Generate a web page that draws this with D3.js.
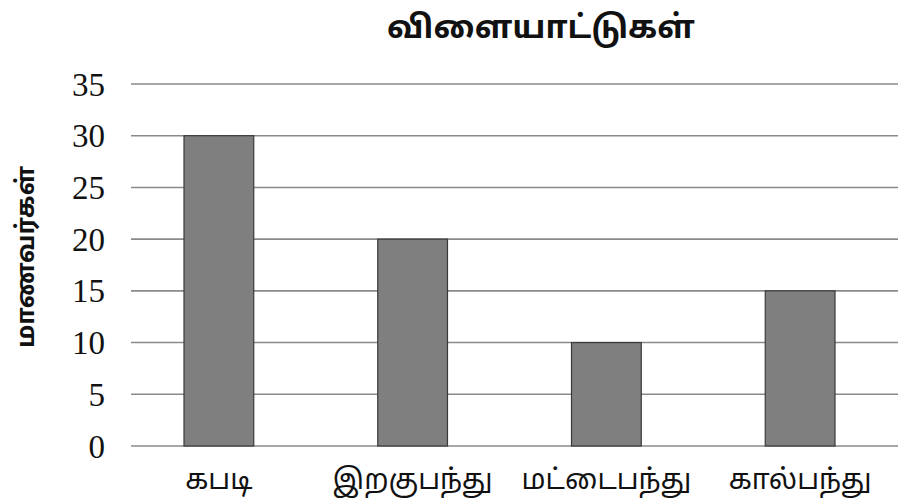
<!DOCTYPE html>
<html>
<head>
<meta charset="utf-8">
<script src="https://cdn.jsdelivr.net/npm/d3@7"></script>
<style>
  body { margin: 0; background: #fff; }
</style>
</head>
<body>
<div id="chart"></div>
<script>
const categories = ["கபடி", "இறகுபந்து", "மட்டைபந்து", "கால்பந்து"];
const students = [30, 20, 10, 15];
const yTicks = [0, 5, 10, 15, 20, 25, 30, 35];
const title = "விளையாட்டுகள்";
const yLabel = "மாணவர்கள்";

const dims = { width: 898, height: 501, left: 131, right: 898, top: 84, bottom: 446 };

const svg = d3.select("#chart")
    .append("svg")
    .attr("width", dims.width)
    .attr("height", dims.height);

const y = d3.scaleLinear()
    .domain([0, 35])
    .range([dims.bottom, dims.top]);

const x = d3.scaleBand()
    .domain(categories)
    .range([122, 897])
    .paddingInner(0.64)
    .paddingOuter(0.32);

// gridlines
svg.append("g")
    .selectAll("line")
    .data(yTicks)
    .join("line")
    .attr("x1", dims.left)
    .attr("x2", dims.right)
    .attr("y1", d => y(d))
    .attr("y2", d => y(d))
    .attr("stroke", "#8a8a8a")
    .attr("stroke-width", 1.6);

// y tick labels
svg.append("g")
    .selectAll("text")
    .data(yTicks)
    .join("text")
    .attr("x", 105)
    .attr("y", d => y(d))
    .attr("dy", "0.35em")
    .attr("text-anchor", "end")
    .attr("font-family", "'Liberation Serif', 'Times New Roman', serif")
    .attr("font-size", 33)
    .attr("fill", "#111")
    .text(d => d);

// bars
svg.append("g")
    .selectAll("rect")
    .data(students)
    .join("rect")
    .attr("x", (d, i) => x(categories[i]))
    .attr("y", d => y(d))
    .attr("width", x.bandwidth())
    .attr("height", d => y(0) - y(d))
    .attr("fill", "#7f7f7f")
    .attr("stroke", "#3a3a3a")
    .attr("stroke-width", 1.2);

// category labels
svg.append("g")
    .selectAll("text")
    .data(categories)
    .join("text")
    .attr("x", d => x(d) + x.bandwidth() / 2)
    .attr("y", 489)
    .attr("text-anchor", "middle")
    .attr("font-family", "'Noto Sans Tamil', 'Noto Sans', sans-serif")
    .attr("font-size", 28)
    .attr("fill", "#111")
    .text(d => d);

// title
svg.append("text")
    .attr("x", 541)
    .attr("y", 38)
    .attr("text-anchor", "middle")
    .attr("font-family", "'Noto Sans Tamil', 'Noto Sans', sans-serif")
    .attr("font-size", 32)
    .attr("font-weight", "bold")
    .attr("fill", "#111")
    .text(title);

// y axis label
svg.append("text")
    .attr("transform", `translate(34,257) rotate(-90)`)
    .attr("text-anchor", "middle")
    .attr("font-family", "'Noto Sans Tamil', 'Noto Sans', sans-serif")
    .attr("font-size", 25)
    .attr("font-weight", "bold")
    .attr("fill", "#111")
    .text(yLabel);
</script>
</body>
</html>
